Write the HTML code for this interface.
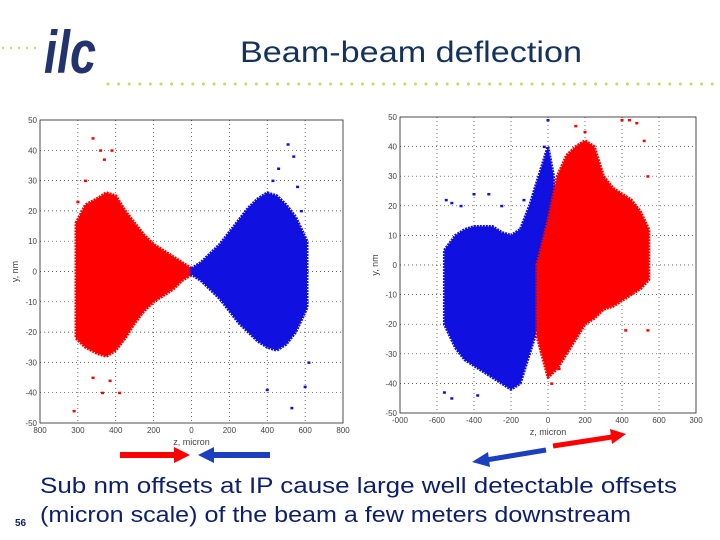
<!DOCTYPE html>
<html><head><meta charset="utf-8">
<style>
body{margin:0;background:#fff;}
#wrap{position:relative;width:720px;height:540px;overflow:hidden;font-family:"Liberation Sans",sans-serif;}
</style></head>
<body>
<div id="wrap">
<svg id="svg" width="720" height="540" viewBox="0 0 720 540" xmlns="http://www.w3.org/2000/svg">
  <g>
    <text x="44" y="73" font-family="Liberation Sans, sans-serif" font-weight="bold" font-style="italic" font-size="60" fill="#23336e" textLength="52" lengthAdjust="spacingAndGlyphs">ilc</text>
  </g>
  <text x="240" y="62" font-family="Liberation Sans, sans-serif" font-size="30" fill="#13325e" textLength="342" lengthAdjust="spacingAndGlyphs">Beam-beam deflection</text>
  <g id="dots"></g>
  <g id="plots"></g>
  <g>
    <line x1="120" y1="455" x2="176" y2="455" stroke="#f00" stroke-width="6"/>
    <polygon points="174,447 190,455 174,463" fill="#f00"/>
    <line x1="212" y1="455" x2="270" y2="455" stroke="#1c3fbf" stroke-width="6"/>
    <polygon points="214,447 198,455 214,463" fill="#1c3fbf"/>
    <line x1="546" y1="450" x2="486" y2="460" stroke="#1c3fbf" stroke-width="5"/>
    <polygon points="488,452 472,462 490,467" fill="#1c3fbf"/>
    <line x1="553" y1="446" x2="612" y2="437" stroke="#f00" stroke-width="5"/>
    <polygon points="610,429 626,434 612,444" fill="#f00"/>
  </g>
  <text x="40" y="493" font-family="Liberation Sans, sans-serif" font-size="22" fill="#0d1f6e" textLength="637" lengthAdjust="spacingAndGlyphs">Sub nm offsets at IP cause large well detectable offsets</text>
  <text x="40" y="522" font-family="Liberation Sans, sans-serif" font-size="22" fill="#0d1f6e" textLength="591" lengthAdjust="spacingAndGlyphs">(micron scale) of the beam a few meters downstream</text>
  <text x="15" y="526" font-family="Liberation Sans, sans-serif" font-size="10" font-weight="bold" fill="#0d1f6e">56</text>
</svg>
</div>
<script>
// ---- data ----
const xTicks = [-800,-600,-400,-200,0,200,400,600,800];
const yTicks = [-50,-40,-30,-20,-10,0,10,20,30,40,50];
const xTickLabelsL = ["800","300","400","200","0","200","400","600","800"];
const xTickLabelsR = ["-000","-600","-400","-200","0","200","400","600","300"];
// left plot envelopes: z, yTop, yBottom
const leftRedZ   = [-610,-560,-500,-450,-400,-350,-300,-250,-200,-150,-100,-50,0];
const leftRedTop = [16,22,24,26,25,20,16,12,9,7,5,3,1];
const leftRedBot = [-22,-25,-27,-28,-26,-22,-17,-13,-10,-8,-6,-3,-1];
const leftBlueZ   = [0,50,100,150,200,250,300,350,400,450,500,550,610];
const leftBlueTop = [1,3,6,9,13,17,21,24,26,25,22,18,10];
const leftBlueBot = [-1,-3,-6,-9,-13,-17,-20,-23,-25,-26,-24,-20,-12];
const leftRedOutZ = [-520,-480,-460,-420,-560,-600,-520,-470,-380,-430,-620];
const leftRedOutY = [44,40,37,40,30,23,-35,-40,-40,-36,-46];
const leftBlueOutZ = [510,540,460,430,560,580,400,530,600,620];
const leftBlueOutY = [42,38,34,30,28,20,-39,-45,-38,-30];
// right plot envelopes
const rightBlueZ   = [-560,-500,-450,-400,-300,-250,-200,-150,-100,-50,0,30];
const rightBlueTop = [5,10,12,13,13,11,10,12,20,30,40,30];
const rightBlueBot = [-20,-28,-32,-34,-38,-40,-42,-40,-30,-20,-10,0];
const rightRedZ   = [-60,0,50,100,150,200,250,300,350,400,450,500,545];
const rightRedTop = [0,15,30,37,40,42,40,30,26,24,22,18,12];
const rightRedBot = [-24,-38,-35,-30,-25,-20,-18,-15,-14,-12,-10,-8,-5];
const rightBlueOutZ = [-550,-520,-470,-400,-320,-250,-130,-20,0,-560,-520,-380];
const rightBlueOutY = [22,21,20,24,24,20,22,40,49,-43,-45,-44];
const rightRedOutZ = [150,200,400,440,480,520,540,420,540,20,60];
const rightRedOutY = [47,45,49,49,48,42,-22,-22,30,-40,-35];

const NS = "http://www.w3.org/2000/svg";
const svg = document.getElementById('svg');
function mk(tag, attrs, parent){const e=document.createElementNS(NS,tag);for(const k in attrs)e.setAttribute(k,attrs[k]);parent.appendChild(e);return e;}

const dots = document.getElementById('dots');
for(let x=3;x<40;x+=8){mk('circle',{cx:x,cy:48,r:1.2,fill:'#c8d86a'},dots);}
for(let x=108;x<720;x+=10.6){mk('circle',{cx:x,cy:84,r:1.5,fill:'#c8d86a'},dots);}

function makePlot(name, L, R, T, B, xLabels, yLabelTxt, clouds){
  const g = mk('g',{},document.getElementById('plots'));
  
  
  const sx = z => L + (z + 800) / 1600 * (R - L);
  const sy = y => B - (y + 50) / 100 * (B - T);
  xTicks.forEach((t,i)=>{
    if(i>0 && i<xTicks.length-1){const l=mk('line',{x1:sx(t),x2:sx(t),y1:T,y2:B,stroke:'#333','stroke-width':0.7,'stroke-dasharray':'1,3'},g);
    
    }
    const tx=mk('text',{x:sx(t),y:B+10,'text-anchor':'middle','font-size':8,fill:'#444'},g);
    tx.textContent=xLabels[i];
    
    
  });
  yTicks.forEach(t=>{
    if(t>-50 && t<50){const l=mk('line',{x1:L,x2:R,y1:sy(t),y2:sy(t),stroke:'#333','stroke-width':0.7,'stroke-dasharray':'1,3'},g);
    
    }
    const tx=mk('text',{x:L-3,y:sy(t)+3,'text-anchor':'end','font-size':8,fill:'#444'},g);
    tx.textContent=String(t);
    
    
  });
  clouds.forEach(c=>{
    const pts=[];
    c.z.forEach((z,i)=>pts.push(sx(z)+','+sy(c.top[i])));
    for(let i=c.z.length-1;i>=0;i--)pts.push(sx(c.z[i])+','+sy(c.bot[i]));
    const p=mk('polygon',{points:pts.join(' '),fill:c.color,stroke:c.color,'stroke-width':3,'stroke-linejoin':'round','stroke-dasharray':'2,1'},g);
    
    
    c.oz.forEach((z,i)=>{
      const r=mk('rect',{x:sx(z)-1.5,y:sy(c.oy[i])-1,width:3,height:2.5,fill:c.color},g);
      
      
    });
  });
  const box=mk('rect',{x:L,y:T,width:R-L,height:B-T,fill:'none',stroke:'#222','stroke-width':0.8},g);
  
  
  const xl=mk('text',{x:(L+R)/2,y:B+22,'text-anchor':'middle','font-size':9,fill:'#444'},g);
  xl.textContent='z, micron';
  
  
  const yl=mk('text',{x:L-22,y:(T+B)/2,'text-anchor':'middle','font-size':9,fill:'#444',transform:`rotate(-90 ${L-22} ${(T+B)/2})`},g);
  yl.textContent=yLabelTxt;
  
  
}
makePlot('left-scatter-plot',40,343,120,423,xTickLabelsL,'y, nm',[
  {name:'red-beam-cloud',color:'#f00',z:leftRedZ,top:leftRedTop,bot:leftRedBot,oz:leftRedOutZ,oy:leftRedOutY},
  {name:'blue-beam-cloud',color:'#1010e0',z:leftBlueZ,top:leftBlueTop,bot:leftBlueBot,oz:leftBlueOutZ,oy:leftBlueOutY}
]);
makePlot('right-scatter-plot',400,696,117,413,xTickLabelsR,'y, nm',[
  {name:'blue-beam-cloud',color:'#1010e0',z:rightBlueZ,top:rightBlueTop,bot:rightBlueBot,oz:rightBlueOutZ,oy:rightBlueOutY},
  {name:'red-beam-cloud',color:'#f00',z:rightRedZ,top:rightRedTop,bot:rightRedBot,oz:rightRedOutZ,oy:rightRedOutY}
]);
</script>
</body></html>
